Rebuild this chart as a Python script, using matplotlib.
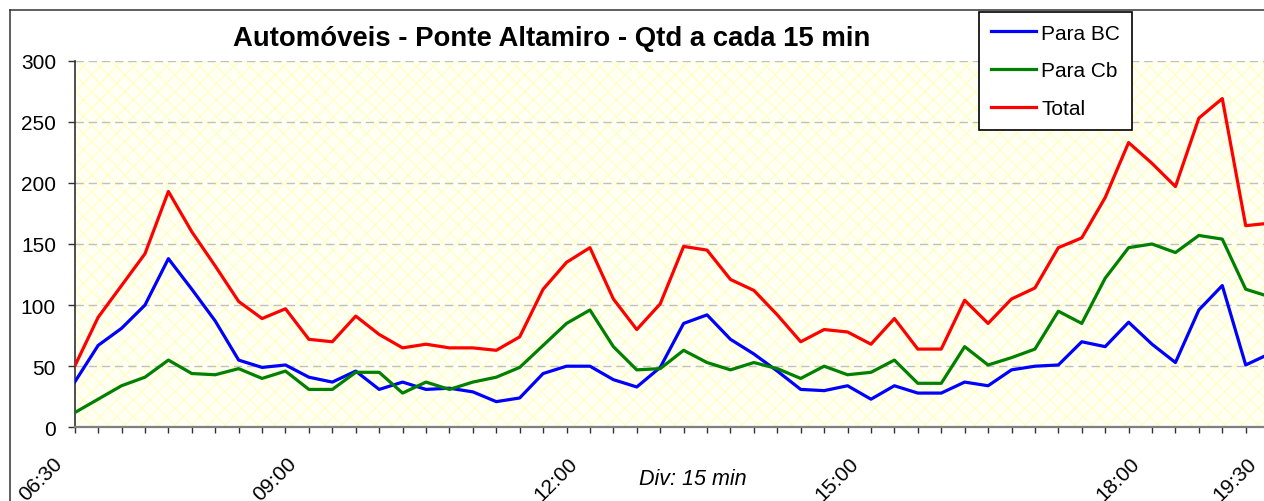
import matplotlib
matplotlib.use('Agg')
import matplotlib.pyplot as plt
from matplotlib.lines import Line2D
from matplotlib.patches import Rectangle
from matplotlib.transforms import offset_copy

# ---------------- data ----------------
para_bc = [37, 67, 81, 100, 138, 113, 87, 55, 49, 51, 41, 37,
           46, 31, 37, 31, 32, 29, 21, 24, 44, 50, 50,
           39, 33, 49, 85, 92, 72, 60, 46, 31, 30, 34, 23,
           34, 28, 28, 37, 34, 47, 50, 51, 70, 66, 86,
           68, 53, 96, 116, 51, 60]
para_cb = [12, 23, 34, 41, 55, 44, 43, 48, 40, 46, 31, 31,
           45, 45, 28, 37, 31, 37, 41, 49, 67, 85, 96,
           66, 47, 48, 63, 53, 47, 53, 48, 40, 50, 43, 45,
           55, 36, 36, 66, 51, 57, 64, 95, 85, 122, 147,
           150, 143, 157, 154, 113, 107]
total = [50, 90, 116, 142, 193, 160, 132, 103, 89, 97, 72, 70,
         91, 76, 65, 68, 65, 65, 63, 74, 113, 135, 147,
         105, 80, 101, 148, 145, 121, 112, 92, 70, 80, 78, 68,
         89, 64, 64, 104, 85, 105, 114, 147, 155, 188, 233,
         216, 197, 253, 269, 165, 167]
series_names = ['Para BC', 'Para Cb', 'Total']
tick_label_idx = [0, 10, 22, 34, 46, 51]
tick_label_txt = ['06:30', '09:00', '12:00', '15:00', '18:00', '19:30']
y_ticks = [0, 50, 100, 150, 200, 250, 300]
title = 'Automóveis - Ponte Altamiro - Qtd a cada 15 min'
xlabel = 'Div: 15 min'

# ---------------- figure ----------------
plt.rcParams['font.family'] = ['Liberation Sans', 'DejaVu Sans']
plt.rcParams['hatch.linewidth'] = 0.7

W, H = 1264, 502
fig = plt.figure(figsize=(W / 100, H / 100), dpi=100)
fig.patch.set_facecolor('white')

n = len(total)
x0px, step, y0px, ytop = 74.7, 23.42, 428.3, 61.7
ax = fig.add_axes([x0px / W, (H - y0px) / H, (n - 1) * step / W, (y0px - ytop) / H])
ax.set_xlim(0, n - 1)
ax.set_ylim(0, 300)
ax.set_facecolor('white')
ax.add_patch(Rectangle((0, 0), 1, 1, transform=ax.transAxes, facecolor='#FFFFF4',
                       edgecolor='#FFFFBC', hatch='xx', linewidth=0, zorder=0))

ax.set_yticks(y_ticks)
ax.yaxis.grid(True, color='#C0C0C0', linestyle=(0, (6, 3.5)), linewidth=1.0)
ax.set_axisbelow(True)

xs = list(range(n))
ax.plot(xs, para_bc, color='#0000FF', lw=2.3, label=series_names[0], zorder=3)
ax.plot(xs, para_cb, color='#008000', lw=2.3, label=series_names[1], zorder=3)
ax.plot(xs, total, color='#FF0000', lw=2.3, label=series_names[2], zorder=3)

ax.set_xticks(xs)
ax.set_xticklabels([''] * n)
lab_tr = offset_copy(ax.get_xaxis_transform(), fig=fig, x=-22, y=-26, units='dots')
for i, t in zip(tick_label_idx, tick_label_txt):
    ax.text(i, 0, t, transform=lab_tr, rotation=45, ha='right', va='top',
            rotation_mode='anchor', fontsize=15, clip_on=False)
ax.tick_params(axis='x', direction='out', length=4.5, width=1, color='#303030')
ax.tick_params(axis='y', direction='out', length=5, width=1, color='#303030', pad=8.5,
               labelsize=15)

for s in ['top', 'right']:
    ax.spines[s].set_visible(False)
ax.spines['left'].set_color('#303030')
ax.spines['left'].set_linewidth(1.2)
ax.spines['bottom'].set_color('#808080')
ax.spines['bottom'].set_linewidth(1.6)

# title & axis label
fig.text(551.5 / W, 1 - 45.7 / H, title, ha='center', va='baseline',
         fontsize=19.8, fontweight='bold')
fig.text(693 / W, 1 - 480 / H, xlabel, ha='center', va='center',
         fontsize=15.5, style='italic')

# legend
leg = ax.legend(loc='upper left', bbox_to_anchor=(979 / W, 1 - 12.7 / H),
                bbox_transform=fig.transFigure, borderaxespad=0, fontsize=15,
                frameon=True, fancybox=False, shadow=False, framealpha=1,
                edgecolor='black', handlelength=2.16, handletextpad=0.24,
                borderpad=0.58, labelspacing=0.89)
leg.get_frame().set_linewidth(1.2)
leg.set_zorder(10)

# outer chart border (clipped on right/bottom)
fig.add_artist(Line2D([10 / W, 10 / W], [0, 1 - 11 / H], color='#333333', lw=1.1))
fig.add_artist(Line2D([10 / W, 1], [1 - 11 / H, 1 - 11 / H], color='#333333', lw=1.1))

fig.savefig('out.png', dpi=100)
